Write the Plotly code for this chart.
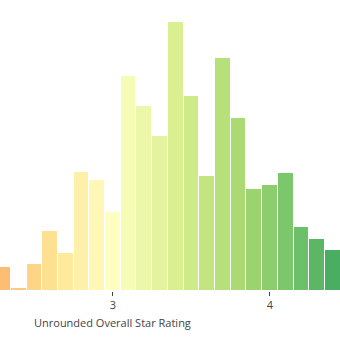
import plotly.graph_objects as go

# bin centers (Unrounded Overall Star Rating, bin width 0.1)
bin_centers = [2.3, 2.4, 2.5, 2.6, 2.7, 2.8, 2.9, 3.0, 3.1, 3.2, 3.3,
               3.4, 3.5, 3.6, 3.7, 3.8, 3.9, 4.0, 4.1, 4.2, 4.3, 4.4]
counts = [24, 3, 27, 60, 38, 119, 111, 79, 215, 185, 155,
          269, 195, 115, 233, 173, 102, 106, 118, 64, 52, 41]
tick_vals = [3, 4]
tick_text = ["3", "4"]
x_title = "Unrounded Overall Star Rating"

fig = go.Figure(go.Bar(
    x=bin_centers,
    y=counts,
    width=0.1,
    marker=dict(
        color=bin_centers,
        colorscale="RdYlGn",
        cmin=1, cmax=5,
        line=dict(color="white", width=1),
    ),
    opacity=0.95,
    hoverinfo="skip",
))

fig.update_layout(
    width=340, height=340,
    margin=dict(l=0, r=0, t=0, b=49),
    paper_bgcolor="white", plot_bgcolor="white",
    bargap=0,
    showlegend=False,
    font=dict(family="Open Sans", size=12, color="#444"),
    xaxis=dict(
        range=[2.281, 4.446],
        tickvals=tick_vals, ticktext=tick_text,
        ticks="outside", ticklen=4, tickcolor="#444",
        showgrid=False, zeroline=False, showline=False,
        tickfont=dict(size=11, color="#444"),
    ),
    yaxis=dict(
        range=[0, 291],
        showticklabels=False, showgrid=False, zeroline=False, showline=False,
    ),
    annotations=[dict(
        text=x_title, xref="paper", yref="paper",
        x=112 / 340, y=0, yshift=-31, xanchor="center", yanchor="middle",
        showarrow=False, font=dict(size=11, color="#444"),
    )],
)

fig.write_html("out.html", config={"displayModeBar": False})
